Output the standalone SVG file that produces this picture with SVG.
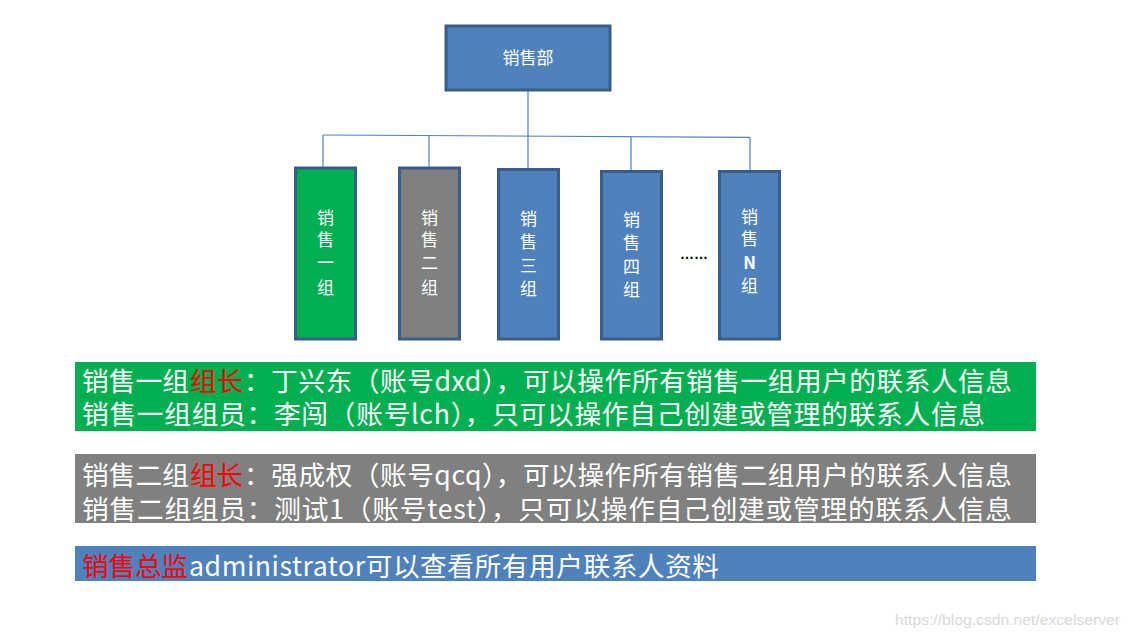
<svg xmlns="http://www.w3.org/2000/svg" width="1131" height="636" viewBox="0 0 1131 636">
<style>
.node{stroke:#385d8a;stroke-width:3}
.blue{fill:#4f81bd}
.green{fill:#00b050}
.gray{fill:#808080}
.nt{font-family:"Noto Sans CJK SC","Liberation Sans",sans-serif;font-size:17px;fill:#ffffff;text-anchor:middle}
.conn{fill:none;stroke:#4f81bd;stroke-width:1.2}
.bt{font-family:"Noto Sans CJK SC","Liberation Sans",sans-serif;font-size:26.7px;fill:#ffffff}
.red{fill:#ff0000}
.wm{font-family:"Liberation Sans",Arial,sans-serif;font-size:15px;fill:#d9d9d9}
</style>
<rect width="1131" height="636" fill="#ffffff"/>
<g id="connectors">
<line class="conn" x1="528" y1="91" x2="528" y2="168"/>
<polyline class="conn" points="323,135 750,137.3"/>
<line class="conn" x1="323" y1="135" x2="323" y2="168"/>
<line class="conn" x1="429" y1="135.6" x2="429" y2="168"/>
<line class="conn" x1="631" y1="136.7" x2="631" y2="171"/>
<line class="conn" x1="750" y1="137.3" x2="750" y2="171"/>
</g>
<g id="dept">
<rect class="node blue" x="446" y="26" width="164" height="64"/>
<text class="nt" x="528" y="64">销售部</text>
</g>
<g id="group1">
<rect class="node green" x="295.5" y="168" width="60" height="171"/>
<text class="nt" x="325.5" y="224">销</text>
<text class="nt" x="325.5" y="246">售</text>
<text class="nt" x="325.5" y="269">一</text>
<text class="nt" x="325.5" y="294">组</text>
</g>
<g id="group2">
<rect class="node gray" x="399.5" y="168" width="60" height="171"/>
<text class="nt" x="429.5" y="224">销</text>
<text class="nt" x="429.5" y="246">售</text>
<text class="nt" x="429.5" y="269">二</text>
<text class="nt" x="429.5" y="294">组</text>
</g>
<g id="group3">
<rect class="node blue" x="498.5" y="169.5" width="60" height="169.5"/>
<text class="nt" x="528.5" y="225">销</text>
<text class="nt" x="528.5" y="248">售</text>
<text class="nt" x="528.5" y="272">三</text>
<text class="nt" x="528.5" y="295">组</text>
</g>
<g id="group4">
<rect class="node blue" x="601.5" y="171.5" width="60" height="167.5"/>
<text class="nt" x="631.5" y="226">销</text>
<text class="nt" x="631.5" y="249">售</text>
<text class="nt" x="631.5" y="273">四</text>
<text class="nt" x="631.5" y="296">组</text>
</g>
<text x="694" y="259" font-family="Liberation Sans,sans-serif" font-size="14" font-weight="bold" fill="#000000" text-anchor="middle">……</text>
<g id="groupN">
<rect class="node blue" x="719.5" y="171.5" width="60" height="167.5"/>
<text class="nt" x="749.5" y="223">销</text>
<text class="nt" x="749.5" y="245">售</text>
<text class="nt" x="749.5" y="269" font-family="Liberation Sans,sans-serif" font-weight="bold" font-size="16">N</text>
<text class="nt" x="749.5" y="292">组</text>
</g>
<g id="desc1">
<rect class="green" x="75" y="362" width="961" height="69"/>
<text class="bt" x="82" y="391" textLength="107" lengthAdjust="spacing">销售一组</text>
<text class="bt red" x="190" y="391" textLength="53" lengthAdjust="spacing">组长</text>
<text class="bt" x="244" y="391" textLength="768" lengthAdjust="spacing">：丁兴东（账号dxd），可以操作所有销售一组用户的联系人信息</text>
<text class="bt" x="82" y="424" textLength="903" lengthAdjust="spacing">销售一组组员：李闯（账号lch），只可以操作自己创建或管理的联系人信息</text>
</g>
<g id="desc2">
<rect class="gray" x="75" y="454" width="961" height="69"/>
<text class="bt" x="82" y="485" textLength="107" lengthAdjust="spacing">销售二组</text>
<text class="bt red" x="190" y="485" textLength="53" lengthAdjust="spacing">组长</text>
<text class="bt" x="244" y="485" textLength="768" lengthAdjust="spacing">：强成权（账号qcq），可以操作所有销售二组用户的联系人信息</text>
<text class="bt" x="82" y="519" textLength="930" lengthAdjust="spacing">销售二组组员：测试1（账号test），只可以操作自己创建或管理的联系人信息</text>
</g>
<g id="desc3">
<rect class="blue" x="75" y="546" width="961" height="35"/>
<text class="bt red" x="82" y="576" textLength="106" lengthAdjust="spacing">销售总监</text>
<text class="bt" x="189" y="576" textLength="530" lengthAdjust="spacing">administrator可以查看所有用户联系人资料</text>
</g>
<text class="wm" x="895" y="625" textLength="225" lengthAdjust="spacingAndGlyphs">https://blog.csdn.net/excelserver</text>
</svg>
